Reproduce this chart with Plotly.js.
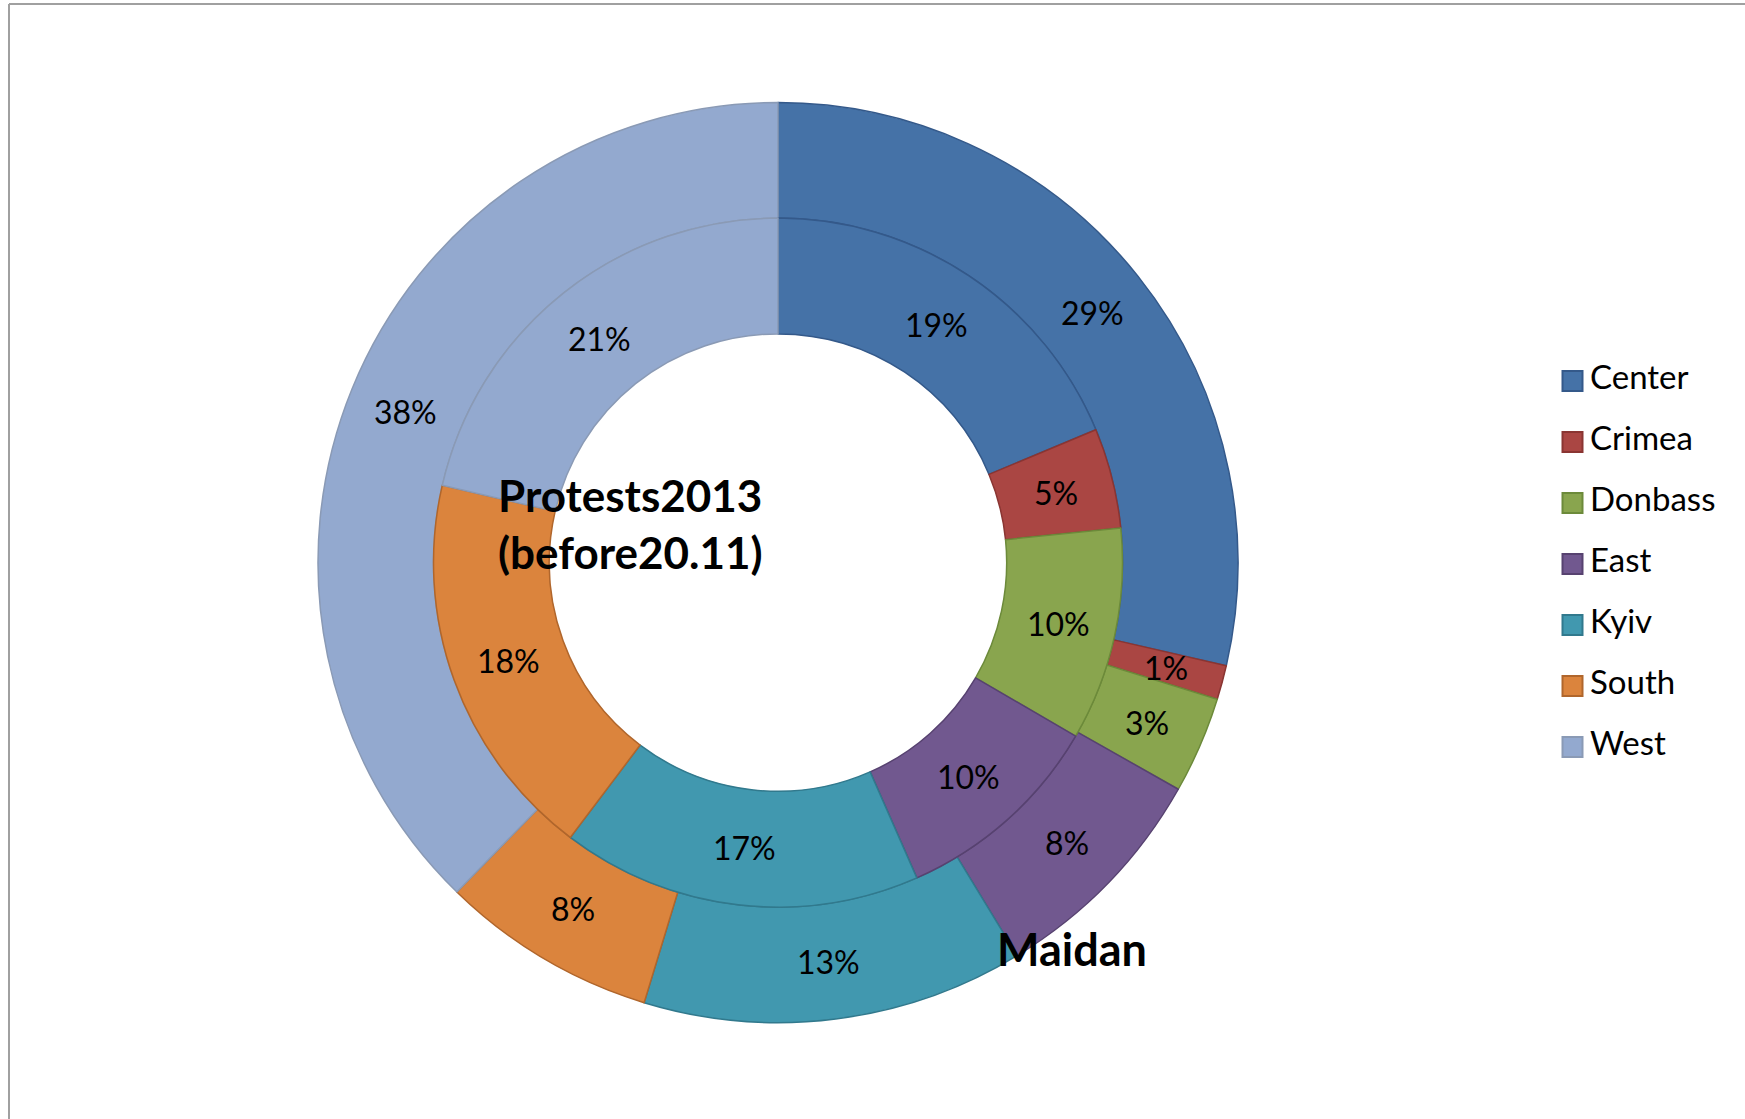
<!DOCTYPE html>
<html>
<head>
<meta charset="utf-8">
<script src="https://cdn.plot.ly/plotly-3.0.1.min.js"></script>
<style>html,body{margin:0;padding:0;background:#fff;}#chart{width:1745px;height:1119px;}</style>
</head>
<body>
<div id="chart"></div>
<script>
// ---- data (shares in %) ----
const categories = ["Center", "Crimea", "Donbass", "East", "Kyiv", "South", "West"];
const maidanValues = [28.6, 1.2, 3.4, 8.1, 13.4, 7.6, 37.7];       // outer ring
const protestsValues = [18.7, 4.7, 10.0, 10.0, 16.9, 18.3, 21.4];  // inner ring
const outerSeriesName = "Maidan";
const innerSeriesName = "Protests2013<br>(before20.11)";

// ---- styles ----
const fillColors = ["#4572A7", "#AA4643", "#89A54E", "#71588F", "#4198AF", "#DB843D", "#93A9CF"];
const lineColors = ["#34598A", "#8A3532", "#6C8A3A", "#574270", "#31798D", "#B0662C", "#8A9AB5"];
const FONT = "Lato, 'Open Sans', sans-serif";
const LABEL_SIZE = 32;

// geometry (pixels)
const W = 1745, H = 1119;
const cx = 778, cy = 562.6;
const rOuter = 460, rMid = 344.5, rInner = 228.7;

function domainFor(r) {
  const cyb = H - cy;
  return { x: [(cx - r) / W, (cx + r) / W], y: [(cyb - r) / H, (cyb + r) / H] };
}

const pieCommon = {
  type: "pie",
  labels: categories,
  sort: false,
  direction: "clockwise",
  rotation: 0,
  textinfo: "none",
  showlegend: false,
  hoverinfo: "label+percent+name"
};

const outer = Object.assign({}, pieCommon, {
  name: "Maidan",
  values: maidanValues,
  domain: domainFor(rOuter),
  hole: rMid / rOuter,
  marker: { colors: fillColors, line: { color: lineColors, width: 1.5 } }
});

const inner = Object.assign({}, pieCommon, {
  name: "Protests2013",
  values: protestsValues,
  domain: domainFor(rMid),
  hole: rInner / rMid,
  marker: { colors: fillColors, line: { color: lineColors, width: 1.5 } }
});

// percentage labels placed at the middle of each ring segment (as Excel does)
function ringLabels(values, rIn, rOut) {
  const total = values.reduce((a, b) => a + b, 0);
  const rm = (rIn + rOut) / 2;
  let cum = 0;
  return values.map(v => {
    const mid = (cum + v / 2) / total;
    cum += v;
    const th = 2 * Math.PI * mid;
    return {
      text: Math.round(100 * v / total) + "%",
      xref: "paper", yref: "paper",
      x: (cx + rm * Math.sin(th)) / W,
      y: (H - cy + rm * Math.cos(th)) / H,
      xanchor: "center", yanchor: "middle",
      showarrow: false,
      font: { family: FONT, size: LABEL_SIZE, color: "#000000" }
    };
  });
}

// legend drawn from the categories: swatches + names
const legendSwatches = {
  type: "scatter",
  mode: "markers",
  x: categories.map(() => 0),
  y: categories.map((c, i) => i),
  marker: { symbol: "square", size: 20, color: fillColors, line: { color: lineColors, width: 2 } },
  hoverinfo: "skip",
  showlegend: false,
  cliponaxis: false,
  xaxis: "x", yaxis: "y"
};
const legendNames = {
  type: "scatter",
  mode: "text",
  x: categories.map(() => 0),
  y: categories.map((c, i) => i),
  text: categories,
  textposition: "middle right",
  textfont: { family: FONT, size: 33, color: "#000000" },
  hoverinfo: "skip",
  showlegend: false,
  cliponaxis: false,
  xaxis: "x2", yaxis: "y"
};

const legTop = 381, legStep = 61.0, swatchX = 1572.5, textX = 1590;
const layout = {
  width: W, height: H,
  margin: { l: 0, r: 0, t: 0, b: 0 },
  paper_bgcolor: "#ffffff",
  plot_bgcolor: "rgba(0,0,0,0)",
  showlegend: false,
  xaxis: { domain: [1500 / W, 1], range: [-(swatchX - 1500), W - swatchX], visible: false, fixedrange: true },
  xaxis2: { domain: [1500 / W, 1], range: [-(textX - 1500), W - textX], visible: false, fixedrange: true, anchor: "y" },
  yaxis: {
    domain: [(H - (legTop + 6.5 * legStep)) / H, (H - (legTop - 0.5 * legStep)) / H],
    range: [6.5, -0.5], visible: false, fixedrange: true
  },
  annotations: [
    {
      text: "<b>" + innerSeriesName + "</b>",
      xref: "paper", yref: "paper",
      x: 496 / W, y: 1 - 467 / H, xanchor: "left", yanchor: "top", align: "left",
      showarrow: false,
      font: { family: FONT, size: 44, color: "#000000" }
    },
    {
      text: "<b>" + outerSeriesName + "</b>",
      xref: "paper", yref: "paper",
      x: 995 / W, y: 1 - 949 / H, xanchor: "left", yanchor: "middle",
      showarrow: false,
      font: { family: FONT, size: 45, color: "#000000" }
    }
  ].concat(ringLabels(maidanValues, rMid, rOuter), ringLabels(protestsValues, rInner, rMid)),
  shapes: [
    { type: "line", xref: "paper", yref: "paper", x0: 9 / W, x1: 1, y0: 1 - 4 / H, y1: 1 - 4 / H, line: { color: "#A0A0A0", width: 2 } },
    { type: "line", xref: "paper", yref: "paper", x0: 9 / W, x1: 9 / W, y0: 0, y1: 1 - 4 / H, line: { color: "#A0A0A0", width: 2 } }
  ]
};

Plotly.newPlot("chart", [outer, inner, legendSwatches, legendNames], layout, { displayModeBar: false, staticPlot: true });
</script>
</body>
</html>
